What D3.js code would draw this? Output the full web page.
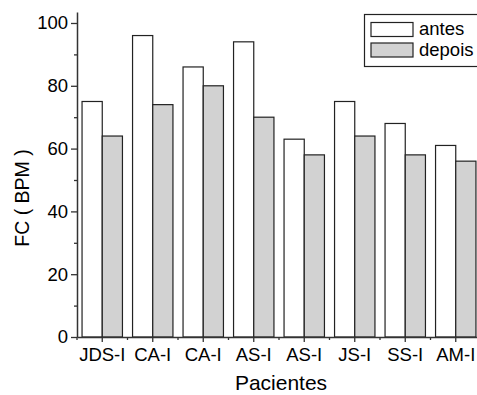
<!DOCTYPE html>
<html>
<head>
<meta charset="utf-8">
<script src="https://cdn.jsdelivr.net/npm/d3@7"></script>
<style>
  body { margin: 0; background: #fff; }
  svg { font-family: Arial, "Liberation Sans", sans-serif; }
</style>
</head>
<body>
<div id="chart"></div>
<script>
// data
const patients = ["JDS-I", "CA-I", "CA-I", "AS-I", "AS-I", "JS-I", "SS-I", "AM-I"];
const antes = [75, 96, 86, 94, 63, 75, 68, 61];
const depois = [64, 74, 80, 70, 58, 64, 58, 56];
const series = ["antes", "depois"];
const yTicks = [0, 20, 40, 60, 80, 100];
const yMinor = [10, 30, 50, 70, 90];

const width = 477, height = 395;
const plotLeft = 77, plotBottom = 337, plotTop = 12;

const svg = d3.select("#chart").append("svg")
    .attr("width", width)
    .attr("height", height);

const idx = d3.range(patients.length);

const x = d3.scaleBand()
    .domain(idx)
    .range([plotLeft, plotLeft + 8 * 50.5])
    .padding(0);

const xSub = d3.scaleBand()
    .domain(series)
    .range([0, x.bandwidth()])
    .paddingInner(0)
    .paddingOuter(0.25);

const y = d3.scaleLinear()
    .domain([0, 103.5])
    .range([plotBottom, plotTop]);

const fills = { antes: "#ffffff", depois: "#d2d2d2" };

// bars
const groups = svg.append("g")
    .selectAll("g")
    .data(idx)
    .join("g")
    .attr("transform", i => `translate(${x(i)},0)`);

groups.selectAll("rect")
    .data(i => [{ key: "antes", v: antes[i] }, { key: "depois", v: depois[i] }])
    .join("rect")
    .attr("x", d => xSub(d.key))
    .attr("y", d => y(d.v))
    .attr("width", xSub.bandwidth())
    .attr("height", d => y(0) - y(d.v))
    .attr("fill", d => fills[d.key])
    .attr("stroke", "#222")
    .attr("stroke-width", 1.2);

// y axis
const yAxis = svg.append("g")
    .attr("transform", `translate(${plotLeft},0)`)
    .call(d3.axisLeft(y).tickValues(yTicks).tickSize(6).tickPadding(3).tickSizeOuter(0));
yAxis.select(".domain").attr("stroke", "#333").attr("stroke-width", 1.5);
yAxis.selectAll(".tick line").attr("stroke", "#333").attr("stroke-width", 1.3);
yAxis.selectAll(".tick text").attr("font-size", 18.5).attr("fill", "#000");

svg.append("g")
    .attr("transform", `translate(${plotLeft},0)`)
    .call(d3.axisLeft(y).tickValues(yMinor).tickSize(3).tickFormat(""))
    .call(g => g.select(".domain").remove())
    .selectAll(".tick line").attr("stroke", "#333").attr("stroke-width", 1.3);

// x axis
const xAxis = svg.append("g")
    .attr("transform", `translate(0,${plotBottom})`)
    .call(d3.axisBottom(x).tickFormat(i => patients[i]).tickSize(5).tickPadding(6).tickSizeOuter(0));
xAxis.select(".domain").attr("stroke", "#333").attr("stroke-width", 1.5);
xAxis.selectAll(".tick line").attr("stroke", "#333").attr("stroke-width", 1.3);
xAxis.selectAll(".tick text").attr("font-size", 18.5).attr("fill", "#000");

// minor x ticks at group boundaries
svg.append("g")
    .selectAll("line")
    .data(idx)
    .join("line")
    .attr("x1", i => x(i))
    .attr("x2", i => x(i))
    .attr("y1", plotBottom)
    .attr("y2", plotBottom + 3)
    .attr("stroke", "#333")
    .attr("stroke-width", 1.3);

// axis titles
svg.append("text")
    .attr("x", 281)
    .attr("y", 390)
    .attr("text-anchor", "middle")
    .attr("font-size", 21)
    .attr("fill", "#000")
    .text("Pacientes");

svg.append("text")
    .attr("transform", "translate(29,198) rotate(-90)")
    .attr("text-anchor", "middle")
    .attr("font-size", 19.5)
    .attr("fill", "#000")
    .text("FC ( BPM )");

// legend
const legend = svg.append("g");
legend.append("rect")
    .attr("x", 364.5).attr("y", 14.5)
    .attr("width", 120).attr("height", 52)
    .attr("fill", "#fff")
    .attr("stroke", "#222")
    .attr("stroke-width", 1.2);

legend.selectAll(".sw")
    .data(series)
    .join("rect")
    .attr("class", "sw")
    .attr("x", 371)
    .attr("y", (d, i) => 22.5 + i * 20.5)
    .attr("width", 42)
    .attr("height", 14)
    .attr("fill", d => fills[d])
    .attr("stroke", "#222")
    .attr("stroke-width", 1.2);

legend.selectAll(".lt")
    .data(series)
    .join("text")
    .attr("class", "lt")
    .attr("x", 419)
    .attr("y", (d, i) => 35 + i * 21)
    .attr("font-size", 18.5)
    .attr("fill", "#000")
    .text(d => d);
</script>
</body>
</html>
